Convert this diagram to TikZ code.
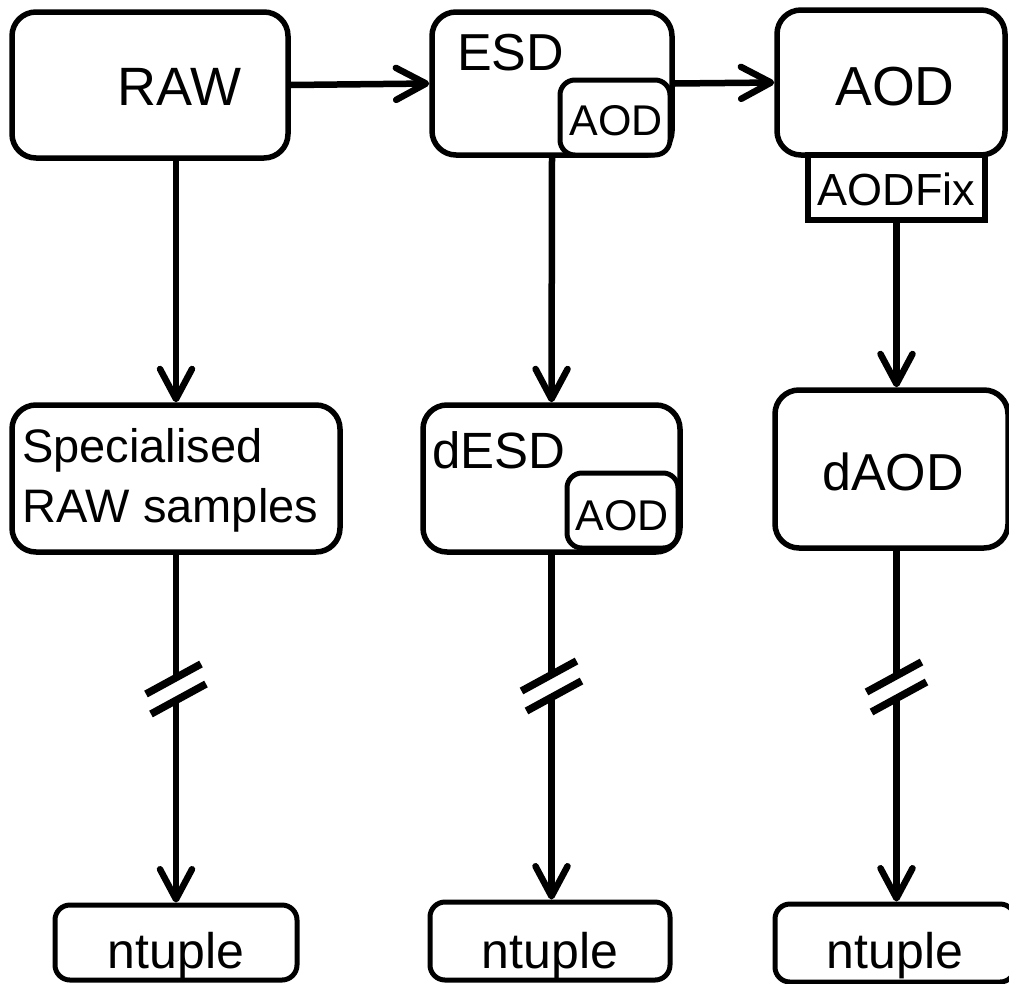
\documentclass[tikz,border=0pt]{standalone}
\usepackage{fontspec}
\setmainfont{Liberation Sans}
\usetikzlibrary{arrows.meta,calc}
\newcommand\setfs[1]{\fontsize{#1}{#1}\selectfont}
\begin{document}
\begin{tikzpicture}[x=1pt,y=-1pt,
  box/.style={draw, line width=5.5pt, rounded corners=24pt, fill=white, inner sep=0pt},
  inset/.style={draw, line width=5pt, rounded corners=15pt, fill=white, inner sep=0pt},
  plainbox/.style={draw, line width=5.5pt, fill=white, inner sep=0pt},
  lbl/.style={inner sep=0pt},
  conn/.style={line width=6.5pt},
  arr/.style={conn, -{Straight Barb[length=30pt, width=32pt, round]}},
  brk/.style={line width=7.5pt},
]
\useasboundingbox (0,0) rectangle (1009,983);
\clip (0,0) rectangle (1009,983);

% top row
\node[box, minimum width=276, minimum height=146] (raw) at (150,85) {};
\node[lbl, font=\setfs{54}, anchor=base] (rawt) at (179,105) {RAW};

\node[box, minimum width=240, minimum height=143] (esd) at (552,83.5) {};
\node[lbl, font=\setfs{52}, anchor=base west] (esdt) at (457,70) {ESD};
\node[inset, minimum width=110, minimum height=75] (esdaod) at (615,117.5) {};
\node[lbl, font=\setfs{43}, anchor=base] (esdaodt) at (616,135) {AOD};

\node[box, minimum width=228, minimum height=145] (aod) at (891,82.5) {};
\node[lbl, font=\setfs{55}, anchor=base] (aodt) at (895,105) {AOD};
\node[plainbox, minimum width=177, minimum height=65] (fix) at (896.5,187.5) {};
\node[lbl, font=\setfs{45}, anchor=base] (fixt) at (896.5,205) {AODFix};

% middle row
\node[box, minimum width=328, minimum height=147] (spec) at (176,478.5) {};
\node[lbl, font=\setfs{47}, anchor=base west] (spect1) at (22,462) {Specialised};
\node[lbl, font=\setfs{47}, anchor=base west] (spect2) at (22,522) {RAW samples};

\node[box, minimum width=257, minimum height=147] (desd) at (551.5,478.5) {};
\node[lbl, font=\setfs{51}, anchor=base west] (desdt) at (432,468) {dESD};
\node[inset, minimum width=111, minimum height=75] (desdaod) at (622.5,510.5) {};
\node[lbl, font=\setfs{43}, anchor=base] (desdaodt) at (622,530) {AOD};

\node[box, minimum width=233, minimum height=158] (daod) at (891.5,469) {};
\node[lbl, font=\setfs{52}, anchor=base] (daodt) at (893,490) {dAOD};

% bottom row
\node[inset, minimum width=242, minimum height=75] (ntl) at (176,942.5) {};
\node[lbl, font=\setfs{50}, anchor=base] (ntlt) at (176,968) {ntuple};
\node[inset, minimum width=240, minimum height=78] (ntm) at (550,941) {};
\node[lbl, font=\setfs{50}, anchor=base] (ntmt) at (550,968) {ntuple};
\node[inset, minimum width=240, minimum height=78] (ntr) at (895,943) {};
\node[lbl, font=\setfs{50}, anchor=base] (ntrt) at (895,968) {ntuple};

% horizontal flow
\draw[arr] (raw.east) -- (esd.west);
\draw[arr] (esd.east) -- (aod.west);

% vertical flow to the derived formats
\draw[arr] (spec.north |- raw.south) -- (spec.north);
\draw[arr] (esd.south) -- (desd.north);
\draw[arr] (fix.south) -- (fix.south |- daod.north);

% break points on the long legs
\coordinate (bl) at (176,689);
\coordinate (bm) at (551.5,686);
\coordinate (br) at (896.5,687);

\draw[conn] (spec.south) -- ($(bl)+(0,-10)$);
\draw[arr] ($(bl)+(0,10)$) -- (ntl.north);
\draw[conn] (desd.south) -- ($(bm)+(0,-10)$);
\draw[arr] ($(bm)+(0,10)$) -- (bm |- ntm.north);
\draw[conn] (br |- daod.south) -- ($(br)+(0,-10)$);
\draw[arr] ($(br)+(0,10)$) -- (br |- ntr.north);

\foreach \p in {bl,bm,br}{
  \draw[brk] ($(\p)+(-30,5)$) -- ($(\p)+(25,-25)$);
  \draw[brk] ($(\p)+(-25,25)$) -- ($(\p)+(30,-5)$);
}
\end{tikzpicture}
\end{document}
